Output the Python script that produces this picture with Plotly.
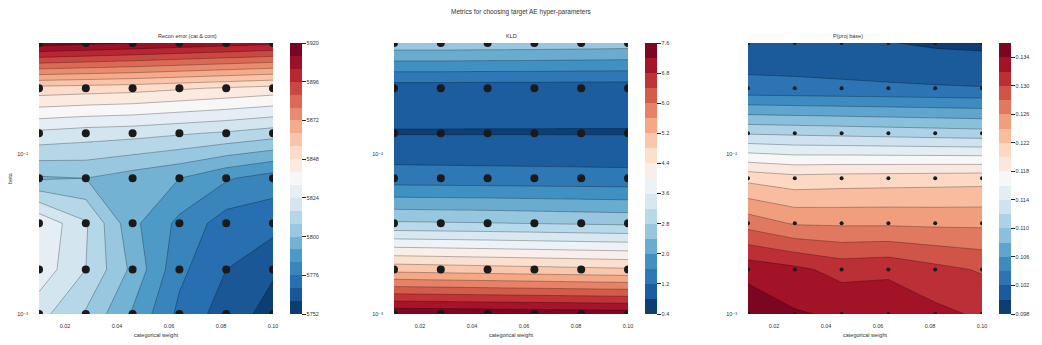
import math
import plotly.graph_objects as go

# ---------------- data ----------------
cat_weight = [0.01, 0.028, 0.046, 0.064, 0.082, 0.10]
beta = [0.001, 0.0019, 0.0037, 0.0071, 0.0136, 0.026, 0.05]

# rows: beta ascending (bottom -> top), columns: categorical weight
recon_error = [
    [5819, 5807, 5791, 5774, 5764, 5757],
    [5829, 5816, 5798, 5778, 5768, 5761],
    [5831, 5817, 5794, 5782, 5772, 5771],
    [5799, 5800, 5796, 5792, 5785, 5780],
    [5822, 5820, 5819, 5817, 5815, 5812],
    [5853, 5852, 5851, 5849, 5847, 5845],
    [5916, 5914, 5912, 5910, 5908, 5906],
]
kld = [
    [7.52, 7.50, 7.48, 7.46, 7.44, 7.42],
    [5.06, 5.02, 4.98, 4.94, 4.90, 4.86],
    [2.86, 2.84, 2.82, 2.79, 2.76, 2.73],
    [1.38, 1.37, 1.36, 1.35, 1.34, 1.33],
    [0.78, 0.78, 0.78, 0.78, 0.78, 0.78],
    [0.99, 0.99, 0.98, 0.98, 0.97, 0.97],
    [2.66, 2.66, 2.65, 2.64, 2.62, 2.60],
]
p_proj_base = [
    [0.1355, 0.1342, 0.1337, 0.1334, 0.1325, 0.1317],
    [0.1333, 0.1325, 0.1313, 0.1316, 0.1306, 0.1298],
    [0.1272, 0.1258, 0.1257, 0.1257, 0.1256, 0.1256],
    [0.1214, 0.1207, 0.1209, 0.1210, 0.1211, 0.1212],
    [0.1118, 0.1116, 0.1114, 0.1112, 0.1110, 0.1108],
    [0.1026, 0.1025, 0.1024, 0.1023, 0.1022, 0.1021],
    [0.1006, 0.1006, 0.1004, 0.10008, 0.0997, 0.09955],
]

titles = ["Recon error (cat & cont)", "KLD", "P(proj base)"]
# contour levels: (first level, last level, step)
levels = [(5752, 5920, 8), (0.4, 7.6, 0.4), (0.098, 0.136, 0.002)]
cbar_ticks = [
    [5752, 5776, 5800, 5824, 5848, 5872, 5896, 5920],
    [0.4, 1.2, 2.0, 2.8, 3.6, 4.4, 5.2, 6.0, 6.8, 7.6],
    [0.098, 0.102, 0.106, 0.110, 0.114, 0.118, 0.122, 0.126, 0.130, 0.134],
]
cbar_fmt = ["{:.0f}", "{:.1f}", "{:.3f}"]
x_ticks = [0.02, 0.04, 0.06, 0.08, 0.10]
x_ticktext = ["0.02", "0.04", "0.06", "0.08", "0.10"]
y_ticks = [0.001, 0.01]
y_ticktext = ["10\u207b\u00b3", "10\u207b\u00b2"]

# ---------------- styling ----------------
W, H = 1042, 345
RDBU_R = ['#053061', '#2166ac', '#4393c3', '#92c5de', '#d1e5f0', '#f7f7f7',
          '#fddbc7', '#f4a582', '#d6604d', '#b2182b', '#67001f']


def hex2rgb(h):
    return tuple(int(h[i:i + 2], 16) for i in (1, 3, 5))


def cmap(v):
    v = min(max(v, 0.0), 1.0) * 10
    i = min(int(v), 9)
    f = v - i
    a, b = hex2rgb(RDBU_R[i]), hex2rgb(RDBU_R[i + 1])
    c = [round(a[k] + (b[k] - a[k]) * f) for k in range(3)]
    return "rgb({},{},{})".format(*c)


def band_scale(n):
    # contour fill: band i is coloured at position i/(n-1)
    return [[i / (n - 1), cmap((i + 0.5) / n)] for i in range(n)]


def step_scale(n):
    out = []
    for i in range(n):
        c = cmap((i + 0.5) / n)
        out += [[i / n, c], [(i + 1) / n, c]]
    return out


plot_px = [(39, 273), (394, 628), (748, 982)]
cbar_px = [290, 645, 999]
y_top, y_bot = 43, 314
ydom = [(H - y_bot) / H, (H - y_top) / H]
FONT = "Liberation Sans, Arial, DejaVu Sans, sans-serif"
TXT = "#333333"

datasets = [recon_error, kld, p_proj_base]
dot_size = [8, 8, 4]

fig = go.Figure()
for k in range(3):
    lo, hi, step = levels[k]
    nb = int(round((hi - lo) / step))
    ax = "" if k == 0 else str(k + 1)
    fig.add_trace(go.Contour(
        x=cat_weight, y=beta, z=datasets[k],
        xaxis="x" + ax, yaxis="y" + ax,
        contours=dict(start=lo + step, end=hi - step, size=step,
                      coloring="fill", showlines=True),
        line=dict(color="rgba(0,0,0,0.55)", width=0.5, smoothing=0),
        colorscale=band_scale(nb), showscale=False,
        hoverinfo="skip",
    ))
    xs = [xv for _ in beta for xv in cat_weight]
    ys = [bv for bv in beta for _ in cat_weight]
    fig.add_trace(go.Scatter(
        x=xs, y=ys, mode="markers", xaxis="x" + ax, yaxis="y" + ax,
        marker=dict(color="#1a1a1a", size=dot_size[k]),
        showlegend=False, hoverinfo="skip", cliponaxis=True,
    ))
    # colour bar (discrete bands, like the contourf colour bar)
    fig.add_trace(go.Scatter(
        x=[cat_weight[0], cat_weight[0]], y=[beta[0], beta[0]],
        mode="markers", xaxis="x" + ax, yaxis="y" + ax,
        marker=dict(color=[lo, hi], cmin=lo, cmax=hi, colorscale=step_scale(nb),
                    size=1, opacity=0, showscale=True,
                    colorbar=dict(
                        x=cbar_px[k] / W, xanchor="left",
                        y=(ydom[0] + ydom[1]) / 2, yanchor="middle",
                        len=ydom[1] - ydom[0], lenmode="fraction",
                        thickness=12, thicknessmode="pixels",
                        xpad=0, ypad=0, outlinewidth=0,
                        ticks="outside", ticklen=4, tickwidth=1, tickcolor="#222",
                        tickmode="array", tickvals=cbar_ticks[k],
                        ticktext=[cbar_fmt[k].format(t) for t in cbar_ticks[k]],
                        tickfont=dict(size=5.5, color=TXT, family=FONT),
                    )),
        showlegend=False, hoverinfo="skip",
    ))

layout = dict(
    width=W, height=H, margin=dict(l=0, r=0, t=0, b=0),
    paper_bgcolor="white", plot_bgcolor="white", showlegend=False,
    font=dict(family=FONT, color=TXT, size=6),
)
annotations = [dict(text="Metrics for choosing target AE hyper-parameters",
                    x=0.5, y=(H - 6) / H, xref="paper", yref="paper",
                    showarrow=False, font=dict(size=6.5, color=TXT, family=FONT))]
for k in range(3):
    ax = "" if k == 0 else str(k + 1)
    x0, x1 = plot_px[k]
    layout["xaxis" + ax] = dict(
        domain=[x0 / W, x1 / W], anchor="y" + ax, range=[0.01, 0.10],
        tickmode="array", tickvals=x_ticks, ticktext=x_ticktext,
        showgrid=False, zeroline=False, showline=False, ticks="",
        ticklabelstandoff=7, automargin=False,
        tickfont=dict(size=5.5, color=TXT, family=FONT),
        title=dict(text="categorical weight", font=dict(size=5.5, color=TXT, family=FONT),
                   standoff=5),
    )
    layout["yaxis" + ax] = dict(
        domain=ydom, anchor="x" + ax, type="log",
        range=[math.log10(beta[0]), math.log10(beta[-1])],
        tickmode="array", tickvals=y_ticks, ticktext=y_ticktext,
        showgrid=False, zeroline=False, showline=False, ticks="",
        ticklabelstandoff=10, automargin=False,
        tickfont=dict(size=5.5, color=TXT, family=FONT),
    )
    annotations.append(dict(text=titles[k], x=(x0 + x1) / 2 / W, y=(H - 31) / H,
                            xref="paper", yref="paper", showarrow=False,
                            font=dict(size=5.5, color=TXT, family=FONT)))
layout["yaxis"]["title"] = dict(text="beta", font=dict(size=5.5, color=TXT, family=FONT),
                                standoff=4)
layout["annotations"] = annotations
fig.update_layout(**layout)
fig.write_html("out.html", config={"displayModeBar": False},
               post_script="document.body.style.margin='0';")
